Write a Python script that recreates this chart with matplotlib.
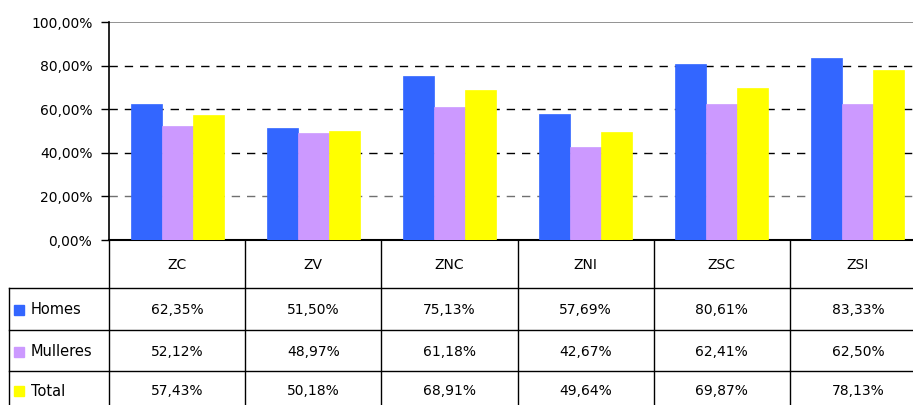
import matplotlib
matplotlib.use("Agg")
import matplotlib.pyplot as plt
from matplotlib.patches import Rectangle

categories = ["ZC", "ZV", "ZNC", "ZNI", "ZSC", "ZSI"]
series_names = ["Homes", "Mulleres", "Total"]
homes = [62.35, 51.50, 75.13, 57.69, 80.61, 83.33]
mulleres = [52.12, 48.97, 61.18, 42.67, 62.41, 62.50]
total = [57.43, 50.18, 68.91, 49.64, 69.87, 78.13]
colors = ["#3366FF", "#CC99FF", "#FFFF00"]
yticks = [0, 20, 40, 60, 80, 100]

def fmt(v):
    return f"{v:.2f}".replace(".", ",") + "%"

W, H = 913, 405
fig = plt.figure(figsize=(W / 100, H / 100), dpi=100)
plt.rcParams['font.family'] = ['DejaVu Sans']

# pixel layout
ax_left, ax_right, ax_top, ax_bot = 109, 926, 22, 240
ax = fig.add_axes([ax_left / W, 1 - ax_bot / H, (ax_right - ax_left) / W, (ax_bot - ax_top) / H])
ax.set_xlim(-0.5, len(categories) - 0.5)
ax.set_ylim(0, 100)

width = 0.228
series = [homes, mulleres, total]
for i, (vals, c) in enumerate(zip(series, colors)):
    xs = [k + (i - 1) * width for k in range(len(categories))]
    ax.bar(xs, vals, width=width, color=c, edgecolor=c, linewidth=0.5, zorder=3)

for t in yticks[1:-1]:
    col = "#707070" if t == 20 else "black"
    ax.axhline(t, color=col, linestyle=(0, (6, 5)), linewidth=1.0, zorder=1)
ax.axhline(100, color="#808080", linewidth=1.2, zorder=1)

ax.set_yticks(yticks)
ax.set_yticklabels([fmt(t) for t in yticks], fontsize=10)
ax.set_xticks([])
ax.tick_params(axis="y", length=6, width=1, direction="out", pad=6)
for s in ["top", "right"]:
    ax.spines[s].set_visible(False)
ax.spines["left"].set_linewidth(1.2)
ax.spines["bottom"].set_linewidth(1.5)

# table overlay in pixel coords
tx = fig.add_axes([0, 0, 1, 1], zorder=-1)
tx.set_xlim(0, W)
tx.set_ylim(H, 0)
tx.axis("off")

col_w = (ax_right - ax_left) / len(categories)
row_lines = [288, 330, 371, 413]
header_mid = (ax_bot + row_lines[0]) / 2
tbl_left = 9
lc = "black"
lw = 1.0
# vertical lines
for k in range(len(categories) + 1):
    x = ax_left + k * col_w
    tx.plot([x, x], [ax_bot, row_lines[-1]], color=lc, lw=lw)
tx.plot([tbl_left, tbl_left], [row_lines[0], row_lines[-1]], color=lc, lw=lw)
for y in row_lines:
    tx.plot([tbl_left, ax_right], [y, y], color=lc, lw=lw)

for k, cat in enumerate(categories):
    tx.text(ax_left + (k + 0.5) * col_w, header_mid + 1, cat, ha="center", va="center", fontsize=10)

for r, (name, vals, c) in enumerate(zip(series_names, series, colors)):
    ymid = (row_lines[r] + row_lines[r + 1]) / 2 + 1 if r < 2 else row_lines[r] + 20
    tx.add_patch(Rectangle((14, ymid - 5), 10, 10, color=c))
    tx.text(31, ymid, name, ha="left", va="center", fontsize=10.5)
    for k, v in enumerate(vals):
        tx.text(ax_left + (k + 0.5) * col_w, ymid, fmt(v), ha="center", va="center", fontsize=10)

fig.savefig("out.png", dpi=100)
